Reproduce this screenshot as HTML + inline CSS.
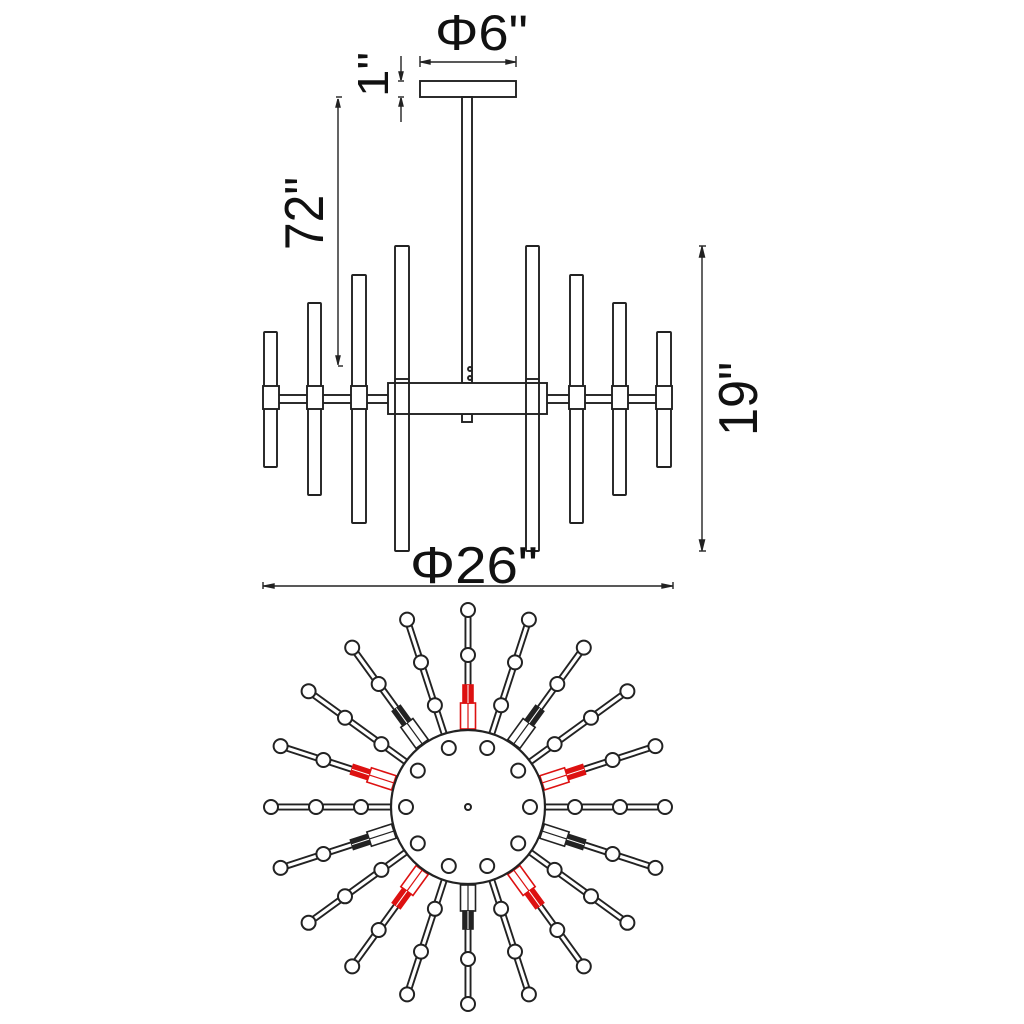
<!DOCTYPE html>
<html><head><meta charset="utf-8"><style>
html,body{margin:0;padding:0;background:#fff}
svg{display:block}
text{font-family:"Liberation Sans",sans-serif;fill:#111}
</style></head><body>
<svg id="s" width="1024" height="1024" viewBox="0 0 1024 1024" xmlns="http://www.w3.org/2000/svg">
<g fill="none" stroke="#222" stroke-width="1.9">
<rect x="420" y="81" width="96" height="16"/>
<rect x="462" y="97" width="10" height="286"/>
<rect x="462" y="414" width="10" height="8"/>
<circle cx="470" cy="369" r="2"/><circle cx="470" cy="378" r="2"/>
<rect x="264" y="395" width="407" height="8" fill="#fff"/>
<rect x="264" y="332" width="13" height="135" rx="1" fill="#fff"/>
<rect x="308" y="303" width="13" height="192" rx="1" fill="#fff"/>
<rect x="352" y="275" width="14" height="248" rx="1" fill="#fff"/>
<rect x="570" y="275" width="13" height="248" rx="1" fill="#fff"/>
<rect x="613" y="303" width="13" height="192" rx="1" fill="#fff"/>
<rect x="657" y="332" width="14" height="135" rx="1" fill="#fff"/>
<rect x="388" y="383" width="159" height="31" fill="#fff"/>
<rect x="395" y="246" width="14" height="305" rx="1"/>
<rect x="526" y="246" width="13" height="305" rx="1"/>
<line x1="395" y1="379" x2="409" y2="379"/><line x1="526" y1="379" x2="539" y2="379"/>
<rect x="263" y="386" width="16" height="23" fill="#fff"/>
<rect x="307" y="386" width="16" height="23" fill="#fff"/>
<rect x="351" y="386" width="16" height="23" fill="#fff"/>
<rect x="569" y="386" width="16" height="23" fill="#fff"/>
<rect x="612" y="386" width="16" height="23" fill="#fff"/>
<rect x="656" y="386" width="16" height="23" fill="#fff"/>
</g>
<g stroke="#222" stroke-width="1.4" fill="#222">
<line x1="420" y1="62" x2="516" y2="62" fill="none"/>
<line x1="420" y1="56" x2="420" y2="67"/><line x1="516" y1="56" x2="516" y2="67"/>
<path d="M421 62 l9 -2 v4z M515 62 l-9 -2 v4z"/>
<line x1="401" y1="56" x2="401" y2="80"/><path d="M401 80 l-2 -8 h4z"/>
<line x1="398" y1="81" x2="404" y2="81"/>
<line x1="401" y1="98" x2="401" y2="122"/><path d="M401 98 l-2 8 h4z"/>
<line x1="398" y1="97" x2="404" y2="97"/>
<line x1="338" y1="99" x2="338" y2="365"/><path d="M338 99 l-2 8 h4z M338 364 l-2 -8 h4z"/>
<line x1="336" y1="97" x2="342" y2="97"/><line x1="338" y1="366" x2="343" y2="366"/>
<line x1="702" y1="246" x2="702" y2="551"/><path d="M702 247 l-2.5 10 h5z M702 550 l-2.5 -10 h5z"/>
<line x1="699" y1="246" x2="706" y2="246"/><line x1="699" y1="551" x2="706" y2="551"/>
<line x1="263" y1="586" x2="673" y2="586"/><path d="M264 586 l10 -2 v4z M672 586 l-10 -2 v4z"/>
<line x1="263" y1="582" x2="263" y2="589"/><line x1="673" y1="582" x2="673" y2="589"/>
</g>
<text x="435" y="50" font-size="50" textLength="93" lengthAdjust="spacingAndGlyphs">Φ6"</text>
<text x="410" y="583" font-size="52" textLength="128" lengthAdjust="spacingAndGlyphs">Φ26"</text>
<text transform="translate(388,97) rotate(-90)" font-size="44" textLength="45" lengthAdjust="spacingAndGlyphs">1"</text>
<text transform="translate(323,250) rotate(-90)" font-size="55" textLength="73" lengthAdjust="spacingAndGlyphs">72"</text>
<text transform="translate(757,436) rotate(-90)" font-size="55" textLength="74" lengthAdjust="spacingAndGlyphs">19"</text>
<g id="bv"></g>
</svg>
<script>
(function(){
var g=document.getElementById('bv'),cx=468,cy=807,h='';
function P(r,a){return [cx+r*Math.cos(a),cy-r*Math.sin(a)];}
function circ(x,y,r){h+='<circle cx="'+x.toFixed(1)+'" cy="'+y.toFixed(1)+'" r="'+r+'" fill="#fff" stroke="#222" stroke-width="2"/>';}
function seg(r1,r2,a,w,col){var p=P(r1,a),q=P(r2,a);h+='<line x1="'+p[0].toFixed(1)+'" y1="'+p[1].toFixed(1)+'" x2="'+q[0].toFixed(1)+'" y2="'+q[1].toFixed(1)+'" stroke="'+col+'" stroke-width="'+w+'"/>';}
function rect(r1,r2,a,w,stroke,fill){var p=P((r1+r2)/2,a),L=r2-r1,deg=-a*180/Math.PI;h+='<rect x="'+(-L/2)+'" y="'+(-w/2)+'" width="'+L+'" height="'+w+'" fill="'+fill+'" stroke="'+stroke+'" stroke-width="1.6" transform="translate('+p[0].toFixed(1)+','+p[1].toFixed(1)+') rotate('+deg.toFixed(1)+')"/>';}
var conns=[];
for(var k=0;k<20;k++){
 var deg=k*18,a=deg*Math.PI/180;
 var isC=((deg-90)%36+360)%36===0;
 seg(76,197,a,7,'#222');seg(76,197,a,3.2,'#fff');
 if(isC){conns.push([a,Math.round((deg-90)/36)%2===0]);}
 var rs=isC?[152,197]:[107,152,197];
 rs.forEach(function(r){var p=P(r,a);circ(p[0],p[1],7);});
}
conns.forEach(function(c){var a=c[0],red=c[1];var col=red?'#d11':'#222';
 rect(78,104,a,15,col,'#fff');seg(78,104,a,1.2,col);
 rect(104,122,a,10,col,col);seg(104,122,a,1,'#fff');
});
h+='<circle cx="'+cx+'" cy="'+cy+'" r="77" fill="#fff" stroke="#222" stroke-width="2.2"/>';
for(var j=0;j<10;j++){var p=P(62,j*36*Math.PI/180);circ(p[0],p[1],7);}
circ(cx,cy,3);
g.innerHTML=h;
})();
</script>
</body></html>
